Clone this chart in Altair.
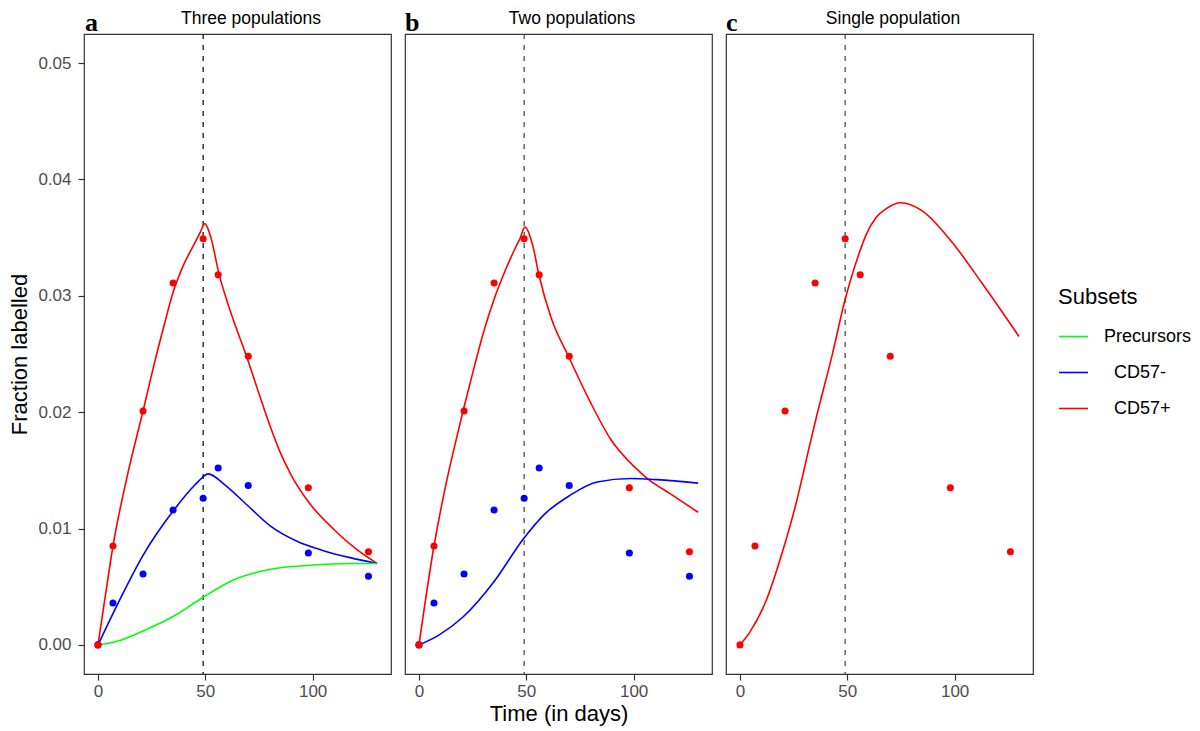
import altair as alt
import pandas as pd

# ---------------- data ----------------
PAD = "\u200b\u00a0\u00a0"   # keeps the legend's leading spaces from being trimmed
subsets = ["Precursors", PAD + "CD57-", PAD + "CD57+"]
colors = ["#00FF00", "#0000FF", "#FF0000"]
PRE, NEG, POS = subsets

obs_days = [0, 7, 21, 35, 49, 56, 70, 98, 126]
obs_cd57pos = [0.0, 0.0085, 0.0201, 0.0311, 0.0349, 0.0318, 0.0248, 0.0135, 0.0080]
obs_cd57neg = [0.0, 0.0036, 0.0061, 0.0116, 0.0126, 0.0152, 0.0137, 0.0079, 0.0059]

# panel a: three populations (model fits)
a_pos_t = [0, 3.5, 7, 14, 21, 26, 31, 35, 40, 45, 47.5, 49.8, 52.3, 56.5, 62, 69.6, 75, 80, 85, 90, 98, 110, 120.5, 130]
a_pos_v = [0, 0.0043, 0.0085, 0.0148, 0.0201, 0.0240, 0.0276, 0.0303, 0.0327, 0.0345, 0.0354, 0.0362, 0.0352, 0.0318, 0.0285, 0.0246, 0.0216, 0.0189, 0.0165, 0.0146, 0.0123, 0.0099, 0.0082, 0.0070]
a_neg_t = [0, 9.4, 21, 35, 43.4, 47, 51.4, 58.8, 69.6, 80.4, 92.7, 105, 117.4, 130]
a_neg_v = [0, 0.0036, 0.0077, 0.0115, 0.0134, 0.0141, 0.0147, 0.0138, 0.0120, 0.0102, 0.0089, 0.0081, 0.0075, 0.0070]
a_pre_t = [0, 9.4, 21, 35.6, 49, 63.4, 80.4, 99, 117.4, 130]
a_pre_v = [0, 0.00034, 0.0012, 0.0025, 0.0041, 0.0056, 0.0065, 0.00685, 0.0070, 0.0070]

# panel b: two populations
b_pos_t = [0, 7, 12, 16.5, 20.8, 25.9, 30.6, 35, 39.8, 44.6, 47, 49.4, 52.9, 56, 61.4, 69.9, 80, 89.2, 101.5, 107, 117, 130]
b_pos_v = [0, 0.0085, 0.0133, 0.0170, 0.0203, 0.0240, 0.0272, 0.0297, 0.0320, 0.0340, 0.0349, 0.0359, 0.0344, 0.0317, 0.0282, 0.0247, 0.0208, 0.0177, 0.0151, 0.0142, 0.0130, 0.0114]
b_neg_t = [0, 8.9, 20.5, 35.2, 48.6, 58.3, 69.9, 83, 98.5, 110.8, 130]
b_neg_v = [0, 0.0008, 0.0024, 0.0055, 0.0091, 0.0112, 0.0128, 0.0140, 0.0143, 0.0142, 0.0139]

# panel c: single population
c_pos_t = [0, 4.6, 12.4, 19.3, 26.2, 32.4, 35.5, 43.2, 48.6, 55.6, 58.9, 63.3, 68.2, 74.9, 84.9, 98.8, 112.7, 130]
c_pos_v = [0, 0.0011, 0.0039, 0.0077, 0.0122, 0.0171, 0.0195, 0.0251, 0.0294, 0.0337, 0.0353, 0.0367, 0.0375, 0.0380, 0.0373, 0.0346, 0.0311, 0.0265]

vline_day = [49]
x_ticks = [0, 50, 100]
y_ticks = [0.0, 0.01, 0.02, 0.03, 0.04, 0.05]

panel_titles = ["Three populations", "Two populations", "Single population"]
panel_letters = ["a", "b", "c"]

# ---------------- tables ----------------
def curve(panel, subset, t, v):
    return pd.DataFrame({"panel": panel, "subset": subset, "day": t, "value": v})

curves = pd.concat([
    curve("a", POS, a_pos_t, a_pos_v),
    curve("a", NEG, a_neg_t, a_neg_v),
    curve("a", PRE, a_pre_t, a_pre_v),
    curve("b", POS, b_pos_t, b_pos_v),
    curve("b", NEG, b_neg_t, b_neg_v),
    curve("c", POS, c_pos_t, c_pos_v),
], ignore_index=True)

obs = pd.concat([
    curve("a", NEG, obs_days, obs_cd57neg),
    curve("a", POS, obs_days, obs_cd57pos),
    curve("b", NEG, obs_days, obs_cd57neg),
    curve("b", POS, obs_days, obs_cd57pos),
    curve("c", POS, obs_days, obs_cd57pos),
], ignore_index=True)

FONT = "Liberation Sans"
W, H = 307, 640

xscale = alt.Scale(domain=[-6.5, 136.5], nice=False, zero=False)
yscale = alt.Scale(domain=[-0.0025, 0.0525], nice=False, zero=False)
cscale = alt.Scale(domain=subsets, range=colors)

legend = alt.Legend(
    title="Subsets", orient="none", legendX=974, legendY=253,
    symbolType="stroke", symbolSize=841, symbolStrokeWidth=1.6,
    labelFont=FONT, labelFontSize=18, labelColor="black", labelOffset=15,
    titleFont=FONT, titleFontSize=22, titleFontWeight="normal", titleColor="black",
    titlePadding=12, rowPadding=11, padding=0,
)


def make_panel(i):
    p = panel_letters[i]
    show_y = i == 0
    xaxis = alt.Axis(
        values=x_ticks, labelFontSize=17, labelFont=FONT, labelColor="#4d4d4d",
        tickSize=6, tickColor="#333333", tickWidth=1.2, labelPadding=3,
        domain=False, grid=False, labelFlush=False,
        titleFont=FONT, titleFontSize=22, titleFontWeight="normal",
        titleColor="black", titlePadding=4,
    )
    xtitle = "Time (in days)" if i == 1 else None
    x = alt.X("day:Q", scale=xscale, axis=xaxis, title=xtitle)
    if show_y:
        y = alt.Y("value:Q", scale=yscale, title="Fraction labelled", axis=alt.Axis(
            values=y_ticks, format=".2f", labelFontSize=17, labelFont=FONT,
            labelColor="#4d4d4d", tickSize=6, tickColor="#333333", tickWidth=1.2,
            labelPadding=7, domain=False, grid=False, labelFlush=False,
            titleFont=FONT, titleFontSize=22, titleFontWeight="normal",
            titleColor="black", titlePadding=6))
    else:
        y = alt.Y("value:Q", scale=yscale, axis=None)

    rule = alt.Chart(pd.DataFrame({"day": vline_day})).mark_rule(
        strokeDash=[5, 6], strokeWidth=1.2, color="black" if i == 0 else "#404040"
    ).encode(x=alt.X("day:Q", scale=xscale))

    lines = alt.Chart(curves[curves.panel == p]).mark_line(
        interpolate="monotone", strokeWidth=1.6
    ).encode(
        x=x, y=y,
        color=alt.Color("subset:N", scale=cscale, legend=legend if i == 0 else None),
        detail="subset:N",
    )

    points = alt.Chart(obs[obs.panel == p]).mark_circle(size=50, opacity=1).encode(
        x=alt.X("day:Q", scale=xscale),
        y=alt.Y("value:Q", scale=yscale),
        color=alt.Color("subset:N", scale=cscale, legend=None),
    )

    labels_df = pd.DataFrame({"letter": [p], "title": [panel_titles[i]]})
    letter = alt.Chart(labels_df).mark_text(
        font="Liberation Serif", fontWeight="bold", fontSize=26,
        align="left", baseline="alphabetic", color="black"
    ).encode(x=alt.value(1 if i == 0 else 0), y=alt.value(-3.5), text="letter:N")

    title = alt.Chart(labels_df).mark_text(
        font=FONT, fontSize=17.5, align="center", baseline="alphabetic", color="black"
    ).encode(x=alt.value(W / 2 + 13.5), y=alt.value(-10), text="title:N")

    return alt.layer(rule, lines, points, letter, title).properties(width=W, height=H)


chart = alt.hconcat(make_panel(0), make_panel(1), make_panel(2), spacing=12).resolve_scale(
    color="shared"
).properties(
    padding={"left": 8, "top": 8, "right": 2, "bottom": 2},
    background="white",
).configure_view(
    stroke="#333333", strokeWidth=1.2
)

chart.save("out.html", embed_options={"renderer": "svg", "actions": False})
